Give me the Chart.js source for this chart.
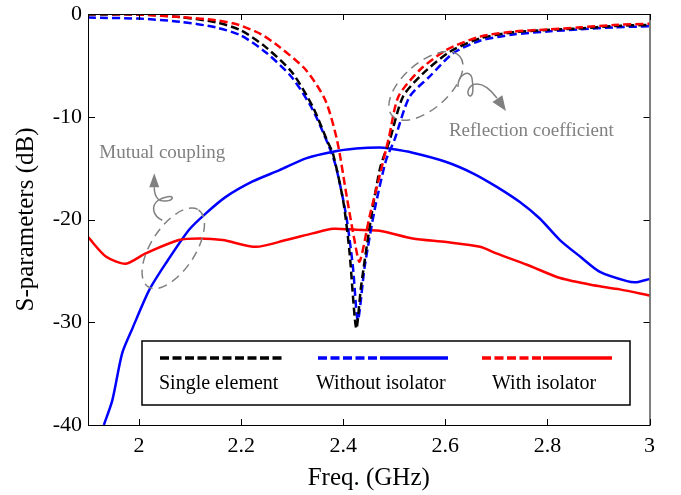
<!DOCTYPE html>
<html>
<head>
<meta charset="utf-8">
<script src="https://cdn.jsdelivr.net/npm/chart.js@4.4.1/dist/chart.umd.min.js"></script>
<style>
    html, body { margin: 0; padding: 0; background: #fff; }
    #wrap { width: 681px; height: 495px; }
</style>
</head>
<body>
<div id="wrap"><canvas id="sparamChart" width="681" height="495"></canvas></div>
<script>
// values (GHz, dB)
const singleFreq = [1.9, 2.0, 2.08, 2.15, 2.2, 2.25, 2.3, 2.34, 2.37, 2.38, 2.4, 2.412, 2.4255, 2.435, 2.455, 2.4727, 2.491, 2.517, 2.556, 2.609, 2.668, 2.733, 2.8, 2.864, 2.93, 3.0];
const singleS11 = [-0.05, -0.05, -0.3, -0.8, -1.6, -3.3, -5.7, -9.0, -12.5, -13.6, -18.2, -23.0, -30.6, -26.5, -19.7, -14.9, -12.3, -8.05, -5.8, -3.67, -2.37, -1.78, -1.55, -1.4, -1.17, -1.05];

const woFreq = [1.9, 2.0, 2.08, 2.15, 2.2, 2.25, 2.3, 2.34, 2.373, 2.386, 2.406, 2.419, 2.4286, 2.442, 2.4614, 2.484, 2.5, 2.53, 2.569, 2.615, 2.668, 2.733, 2.8, 2.864, 2.93, 3.0];
const woS11 = [-0.35, -0.45, -0.75, -1.3, -2.1, -3.8, -6.2, -9.3, -13.0, -14.9, -19.7, -24.6, -29.8, -24.6, -19.1, -14.2, -12.3, -8.05, -6.1, -3.83, -2.6, -2.0, -1.7, -1.5, -1.3, -1.2];

const wFreq = [1.9, 2.0, 2.08, 2.15, 2.196, 2.24, 2.275, 2.327, 2.365, 2.388, 2.408, 2.422, 2.432, 2.4516, 2.471, 2.49, 2.508, 2.55, 2.602, 2.668, 2.733, 2.8, 2.864, 2.93, 3.0];
const wS11 = [0, -0.05, -0.3, -0.6, -1.07, -2.0, -3.2, -5.45, -8.4, -12.3, -18.1, -22.0, -24.1, -19.7, -15.8, -11.9, -8.05, -5.45, -3.5, -2.2, -1.72, -1.5, -1.3, -1.07, -0.95];

const woS21Freq = [1.931, 1.9476, 1.967, 1.987, 2.0196, 2.052, 2.098, 2.131, 2.17, 2.2225, 2.275, 2.327, 2.38, 2.4255, 2.471, 2.49, 2.536, 2.602, 2.654, 2.7, 2.746, 2.785, 2.8245, 2.864, 2.903, 2.956, 2.975, 3.0];
const woS21 = [-40, -37.6, -33, -30.6, -26.9, -24.3, -21, -19.4, -17.8, -16.3, -15.2, -14.05, -13.4, -13.1, -13.0, -13.1, -13.5, -14.4, -15.5, -16.8, -18.3, -19.9, -22, -23.6, -25.1, -26.0, -26.1, -25.8];

const wS21Freq = [1.9, 1.935, 1.974, 2.013, 2.078, 2.118, 2.164, 2.229, 2.288, 2.34, 2.38, 2.4255, 2.471, 2.536, 2.602, 2.668, 2.7, 2.76, 2.825, 2.89, 2.942, 3.0];
const wS21 = [-21.7, -23.6, -24.3, -23.3, -22, -21.85, -22, -22.66, -22, -21.35, -20.9, -21.0, -21.1, -21.85, -22.2, -22.66, -23.3, -24.4, -25.7, -26.4, -26.8, -27.4];

const xTicks = [2, 2.2, 2.4, 2.6, 2.8, 3];
const yTicks = [-40, -30, -20, -10, 0];
const legendLabels = ['Single element', 'Without isolator', 'With isolator'];
const noteLabels = ['Mutual coupling', 'Reflection coefficient'];
// ellipse centres of the two call-outs, in data units
const noteAnchors = [[2.067, -22.8], [2.562, -7.0]];

const serif = "'Liberation Serif', 'Times New Roman', serif";
const toPoints = (xs, ys) => xs.map((x, i) => ({x: x, y: ys[i]}));

function arrowHead(ctx, fromX, fromY, tipX, tipY, len, half) {
    const a = Math.atan2(tipY - fromY, tipX - fromX);
    const bx = tipX - len * Math.cos(a), by = tipY - len * Math.sin(a);
    ctx.beginPath();
    ctx.moveTo(tipX, tipY);
    ctx.lineTo(bx - half * Math.sin(a), by + half * Math.cos(a));
    ctx.lineTo(bx + half * Math.sin(a), by - half * Math.cos(a));
    ctx.closePath();
    ctx.fill();
}

const framePlugin = {
    id: 'frame',
    afterDatasetsDraw(chart) {
        const {ctx, chartArea: a, scales: {x, y}} = chart;
        ctx.save();
        ctx.strokeStyle = '#000';
        ctx.lineWidth = 1;
        ctx.setLineDash([]);
        ctx.strokeRect(a.left + 0.5, a.top + 0.5, a.right - a.left, a.bottom - a.top);
        ctx.beginPath();
        xTicks.forEach(v => {
            const px = Math.round(x.getPixelForValue(v)) + 0.5;
            ctx.moveTo(px, a.bottom); ctx.lineTo(px, a.bottom - 6);
            ctx.moveTo(px, a.top); ctx.lineTo(px, a.top + 6);
        });
        yTicks.forEach(v => {
            const py = Math.round(y.getPixelForValue(v)) + 0.5;
            ctx.moveTo(a.left, py); ctx.lineTo(a.left + 7, py);
            ctx.moveTo(a.right, py); ctx.lineTo(a.right - 6, py);
        });
        ctx.stroke();
        ctx.restore();
    },
    afterDraw(chart) {
        const {ctx, chartArea: a, scales: {x, y}} = chart;
        ctx.save();

        // call-outs
        const gray = '#808080';
        ctx.strokeStyle = gray;
        ctx.fillStyle = gray;
        ctx.lineWidth = 1.5;
        const c1 = {x: x.getPixelForValue(noteAnchors[0][0]), y: y.getPixelForValue(noteAnchors[0][1])};
        const c2 = {x: x.getPixelForValue(noteAnchors[1][0]), y: y.getPixelForValue(noteAnchors[1][1])};

        ctx.setLineDash([9, 6]);
        ctx.beginPath();
        ctx.ellipse(c1.x, c1.y, 46, 22, -0.99, 0, Math.PI * 2);
        ctx.stroke();
        ctx.beginPath();
        ctx.ellipse(c2.x, c2.y, 45, 23, -0.72, 0, Math.PI * 2);
        ctx.stroke();

        ctx.setLineDash([]);
        ctx.beginPath();
        ctx.moveTo(c1.x - 11, c1.y - 28);
        ctx.bezierCurveTo(c1.x - 20, c1.y - 32, c1.x - 23, c1.y - 42, c1.x - 15, c1.y - 48);
        ctx.bezierCurveTo(c1.x - 9, c1.y - 52, c1.x, c1.y - 53, c1.x - 1, c1.y - 50);
        ctx.bezierCurveTo(c1.x - 2, c1.y - 47, c1.x - 12, c1.y - 46, c1.x - 15, c1.y - 49);
        ctx.bezierCurveTo(c1.x - 18, c1.y - 52, c1.x - 19, c1.y - 56, c1.x - 19, c1.y - 61);
        ctx.stroke();
        arrowHead(ctx, c1.x - 19, c1.y - 61, c1.x - 19, c1.y - 75, 14, 5);

        ctx.beginPath();
        ctx.moveTo(c2.x + 32, c2.y + 1);
        ctx.bezierCurveTo(c2.x + 32, c2.y - 12, c2.x + 44, c2.y - 17, c2.x + 46, c2.y - 8);
        ctx.bezierCurveTo(c2.x + 48, c2.y + 2, c2.x + 47, c2.y + 11, c2.x + 44, c2.y + 10);
        ctx.bezierCurveTo(c2.x + 40, c2.y + 9, c2.x + 42, c2.y - 2, c2.x + 51, c2.y - 2);
        ctx.bezierCurveTo(c2.x + 58, c2.y - 2, c2.x + 65, c2.y + 4, c2.x + 71, c2.y + 12);
        ctx.stroke();
        arrowHead(ctx, c2.x + 71, c2.y + 12, c2.x + 80, c2.y + 25, 15, 6);

        ctx.font = '19px ' + serif;
        ctx.textBaseline = 'middle';
        ctx.textAlign = 'left';
        ctx.fillText(noteLabels[0], c1.x - 74, c1.y - 95);
        ctx.fillText(noteLabels[1], c2.x + 23, c2.y + 45);

        // legend
        const lx = a.left + 54, ly = 341, lw = 488, lh = 64;
        ctx.fillStyle = '#fff';
        ctx.fillRect(lx, ly, lw, lh);
        ctx.strokeStyle = '#000';
        ctx.lineWidth = 1.5;
        ctx.strokeRect(lx, ly, lw, lh);

        const items = [
            {color: '#000', dash: [lx + 18, lx + 143], solid: null, text: lx + 17},
            {color: '#0000ff', dash: [lx + 176, lx + 238], solid: [lx + 238, lx + 306], text: lx + 174},
            {color: '#ff0000', dash: [lx + 340, lx + 401], solid: [lx + 401, lx + 470], text: lx + 350}
        ];
        const lineY = ly + 17;
        ctx.lineWidth = 3.5;
        items.forEach((it, i) => {
            ctx.strokeStyle = it.color;
            ctx.setLineDash([9, 3.5]);
            ctx.beginPath();
            ctx.moveTo(it.dash[0], lineY);
            ctx.lineTo(it.dash[1], lineY);
            ctx.stroke();
            if (it.solid) {
                ctx.setLineDash([]);
                ctx.beginPath();
                ctx.moveTo(it.solid[0], lineY);
                ctx.lineTo(it.solid[1], lineY);
                ctx.stroke();
            }
            ctx.fillStyle = '#000';
            ctx.font = '20px ' + serif;
            ctx.fillText(legendLabels[i], it.text, ly + 43);
        });
        ctx.restore();
    }
};

const baseLine = {
    pointRadius: 0,
    borderWidth: 2.5,
    tension: 0.25,
    fill: false
};

new Chart(document.getElementById('sparamChart'), {
    type: 'line',
    data: {
        datasets: [
            Object.assign({label: 'With isolator S11', data: toPoints(wFreq, wS11), borderColor: '#ff0000', borderDash: [8, 4], order: 0}, baseLine),
            Object.assign({label: 'Single element S11', data: toPoints(singleFreq, singleS11), borderColor: '#000000', borderDash: [8, 4], order: 1}, baseLine),
            Object.assign({label: 'Without isolator S11', data: toPoints(woFreq, woS11), borderColor: '#0000ff', borderDash: [8, 4], order: 2}, baseLine),
            Object.assign({label: 'With isolator S21', data: toPoints(wS21Freq, wS21), borderColor: '#ff0000', order: 3}, baseLine),
            Object.assign({label: 'Without isolator S21', data: toPoints(woS21Freq, woS21), borderColor: '#0000ff', order: 4}, baseLine)
        ]
    },
    options: {
        responsive: false,
        animation: false,
        devicePixelRatio: 1,
        layout: {
            padding: {left: 0, right: 31.5, top: 14, bottom: 0}
        },
        plugins: {
            legend: {display: false},
            tooltip: {enabled: false}
        },
        scales: {
            x: {
                type: 'linear',
                min: 1.9,
                max: 3,
                afterBuildTicks: scale => { scale.ticks = xTicks.map(v => ({value: v})); },
                afterFit: scale => { scale.height = 70; },
                grid: {display: false, drawTicks: false},
                border: {display: false},
                ticks: {
                    padding: 8,
                    color: '#000',
                    font: {family: serif, size: 22},
                    callback: v => String(v)
                },
                title: {
                    display: true,
                    text: 'Freq. (GHz)',
                    color: '#000',
                    font: {family: serif, size: 25, lineHeight: 1.2},
                    padding: {top: 0, bottom: 2}
                }
            },
            y: {
                min: -40,
                max: 0,
                afterBuildTicks: scale => { scale.ticks = yTicks.map(v => ({value: v})); },
                afterFit: scale => {
                    scale.width = 88;
                    scale.paddingTop = 0;
                    scale.paddingBottom = 0;
                },
                grid: {display: false, drawTicks: false},
                border: {display: false},
                ticks: {
                    padding: 6,
                    color: '#000',
                    font: {family: serif, size: 22},
                    callback: v => String(v)
                },
                title: {
                    display: true,
                    text: 'S-parameters (dB)',
                    color: '#000',
                    font: {family: serif, size: 25, lineHeight: 1.2},
                    padding: {top: 11, bottom: 0}
                }
            }
        }
    },
    plugins: [framePlugin]
});
</script>
</body>
</html>
